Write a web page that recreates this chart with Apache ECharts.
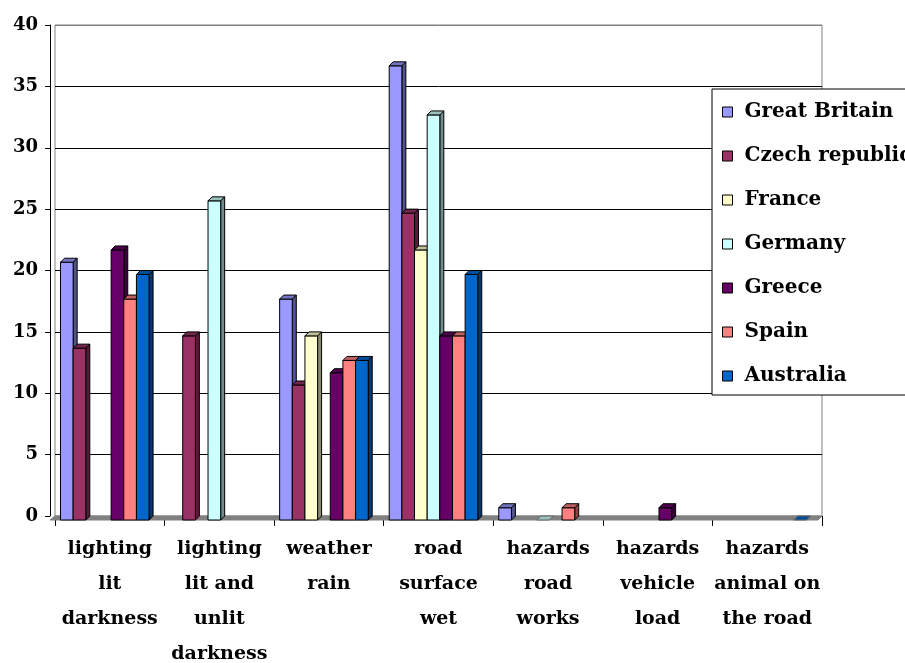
<!DOCTYPE html>
<html>
<head>
<meta charset="utf-8">
<script src="https://cdn.jsdelivr.net/npm/echarts@6/dist/echarts.min.js"></script>
<style>html,body{margin:0;padding:0;background:#fff}#c{width:905px;height:663px}</style>
</head>
<body>
<div id="c"></div>
<script>
const categories = [
  'lighting\nlit\ndarkness',
  'lighting\nlit and\nunlit\ndarkness',
  'weather\nrain',
  'road\nsurface\nwet',
  'hazards\nroad\nworks',
  'hazards\nvehicle\nload',
  'hazards\nanimal on\nthe road'
];
const seriesNames = ['Great Britain', 'Czech republic', 'France', 'Germany', 'Greece', 'Spain', 'Australia'];
const greatBritain  = [21, null, 18, 37, 1, null, null];
const czechRepublic = [14, 15, 11, 25, null, null, null];
const france        = [null, null, 15, 22, null, null, null];
const germany       = [null, 26, null, 33, 0, null, null];
const greece        = [22, null, 12, 15, null, 1, null];
const spain         = [18, null, 13, 15, 1, null, null];
const australia     = [20, null, 13, 20, null, null, 0];
const yTicks = [0, 5, 10, 15, 20, 25, 30, 35, 40];

const seriesValues = [greatBritain, czechRepublic, france, germany, greece, spain, australia];
const colors = ['#9999FF', '#993366', '#FFFFCC', '#CCFFFF', '#660066', '#FF8080', '#0066CC'];

function shade(hex, f) {
  const n = parseInt(hex.slice(1), 16);
  const r = Math.round(((n >> 16) & 255) * f), g = Math.round(((n >> 8) & 255) * f), b = Math.round((n & 255) * f);
  return 'rgb(' + r + ',' + g + ',' + b + ')';
}

const W = 905, H = 663;
const G = { left: 55, right: 83, top: 25, bottom: 147 };
const D = 4;
const FONT = 'DejaVu Serif';

function makeRender(idx) {
  const col = colors[idx];
  return function (params, api) {
    const v = api.value(1);
    if (v === null || v === undefined || isNaN(v)) return null;
    const ci = api.value(0);
    const base = api.coord([ci, 0]);
    const top = api.coord([ci, v]);
    const band = api.size([1, 0])[0];
    const bw = band * 0.1155;
    const start = base[0] - band / 2 + (band - 7 * bw - D) / 2 - 3;
    const x0 = start + idx * bw, x1 = x0 + bw;
    const yb = base[1] + D, yt = top[1] + D;
    const stroke = { stroke: '#000', lineWidth: 1 };
    const children = [];
    if (yb - yt > 0.5) {
      children.push({ type: 'polygon', shape: { points: [[x1, yt], [x1 + D, yt - D], [x1 + D, yb - D], [x1, yb]] },
        style: Object.assign({ fill: shade(col, 0.55) }, stroke) });
      children.push({ type: 'rect', shape: { x: x0, y: yt, width: bw, height: yb - yt },
        style: Object.assign({ fill: col }, stroke) });
    }
    children.push({ type: 'polygon', shape: { points: [[x0, yt], [x0 + D, yt - D], [x1 + D, yt - D], [x1, yt]] },
      style: Object.assign({ fill: shade(col, 0.75) }, (yb - yt > 0.5) ? stroke : { stroke: '#666', lineWidth: 1 }) });
    return { type: 'group', children: children };
  };
}

const chart = echarts.init(document.getElementById('c'), null, { renderer: 'canvas' });
const splitColors = yTicks.map((t, i) => (i === 0 || i === yTicks.length - 1) ? '#808080' : '#000');

chart.setOption({
  animation: false,
  backgroundColor: '#fff',
  grid: { left: G.left, right: G.right, top: G.top, bottom: G.bottom, show: true, borderColor: '#808080', borderWidth: 1, backgroundColor: 'transparent', containLabel: false, outerBoundsMode: 'none' },
  graphic: [{
    type: 'polygon', z: 1, silent: true,
    shape: { points: [[G.left, H - G.bottom], [W - G.right, H - G.bottom], [W - G.right - D, H - G.bottom + D], [G.left - D - 1, H - G.bottom + D]] },
    style: { fill: '#808080', stroke: '#808080' }
  }],
  legend: {
    orient: 'vertical', left: 712, top: 89,
    data: seriesNames,
    icon: 'rect', itemWidth: 10, itemHeight: 10, itemGap: 24,
    padding: [13, 40, 9, 10],
    backgroundColor: '#fff', borderColor: '#000', borderWidth: 1,
    itemStyle: { borderColor: '#000', borderWidth: 1 },
    textStyle: { fontFamily: FONT, fontWeight: 'bold', fontSize: 20, color: '#000', lineHeight: 20, padding: [0, 0, 0, 7] }
  },
  xAxis: {
    type: 'category', data: categories, offset: D,
    axisLine: { lineStyle: { color: '#000', width: 1 } },
    axisTick: { show: true, alignWithLabel: false, length: 10, lineStyle: { color: '#000', width: 1 } },
    axisLabel: { interval: 0, fontFamily: FONT, fontWeight: 'bold', fontSize: 19, lineHeight: 35, color: '#000', margin: 12 },
    splitLine: { show: false }
  },
  yAxis: {
    type: 'value', min: 0, max: 40, interval: 5, offset: 5,
    axisLine: { show: true, lineStyle: { color: '#000', width: 1 } },
    axisTick: { show: true, length: 5, lineStyle: { color: '#000' } },
    axisLabel: { fontFamily: FONT, fontWeight: 'bold', fontSize: 18, color: '#000', margin: 12 },
    splitLine: { show: true, lineStyle: { color: splitColors, width: 1 } }
  },
  series: seriesNames.map((name, i) => ({
    type: 'custom', name: name, z: 3,
    itemStyle: { color: colors[i], borderColor: '#000', borderWidth: 1 },
    encode: { x: 0, y: 1 },
    data: seriesValues[i].map((v, ci) => [ci, v === null ? '-' : v]),
    renderItem: makeRender(i)
  }))
});
</script>
</body>
</html>
